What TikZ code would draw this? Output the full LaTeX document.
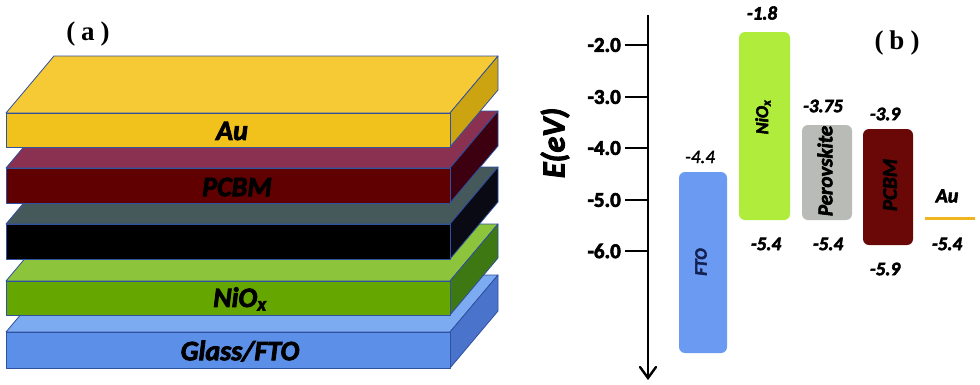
\documentclass[tikz,border=0pt]{standalone}
\usepackage{fontspec}
\setmainfont{Carlito}[BoldFeatures={FakeBold=3},BoldItalicFeatures={FakeBold=3},ItalicFeatures={FakeBold=1.5}]
\newfontfamily\serifbold{Liberation Serif}
\usetikzlibrary{arrows.meta}
\definecolor{edgeblue}{HTML}{3050A0}
\definecolor{auF}{HTML}{F2C21C}\definecolor{auT}{HTML}{F5CA34}\definecolor{auS}{HTML}{CCA412}
\definecolor{pcF}{HTML}{600000}\definecolor{pcT}{HTML}{8A3050}\definecolor{pcS}{HTML}{3C0010}
\definecolor{peF}{HTML}{000000}\definecolor{peT}{HTML}{45595A}\definecolor{peS}{HTML}{0A0A14}
\definecolor{niF}{HTML}{66A600}\definecolor{niT}{HTML}{8CC43C}\definecolor{niS}{HTML}{3E7812}
\definecolor{glF}{HTML}{5B8FE8}\definecolor{glT}{HTML}{7DABF2}\definecolor{glS}{HTML}{4A74CC}
\definecolor{ftoC}{HTML}{6A9AF2}\definecolor{nioC}{HTML}{B0EC3C}\definecolor{perC}{HTML}{B9BBB6}
\definecolor{pcbmC}{HTML}{6A0808}\definecolor{auC}{HTML}{F0B41E}\definecolor{ftoT}{HTML}{142050}
\newcommand{\mylayer}[5]{%
  \filldraw[face,fill=#4] (6,#1) -- (450,#1) -- (498,{#1-57}) -- (54,{#1-57}) -- cycle;
  \filldraw[face,fill=#5] (450,#1) -- (498,{#1-57}) -- (498,{#2-57}) -- (450,#2) -- cycle;
  \filldraw[face,fill=#3] (6,#1) rectangle (450,#2);
}
\begin{document}
\begin{tikzpicture}[x=1pt,y=-1pt,
  face/.style={draw=edgeblue,line width=0.8pt,line join=round},
  laylabel/.style={font=\fontsize{28}{30}\selectfont\bfseries\itshape,inner sep=0pt},
  panel/.style={font=\serifbold\fontsize{27}{29}\selectfont\bfseries,inner sep=0pt},
  ticklab/.style={font=\fontsize{21}{23}\selectfont\bfseries,anchor=east,inner sep=0pt},
  elab/.style={font=\fontsize{19}{21}\selectfont\bfseries\itshape,inner sep=0pt},
  bar/.style={rounded corners=6pt,inner sep=0pt},
  barlab/.style={rotate=90,font=\bfseries\itshape,inner sep=0pt},
  axisline/.style={line width=2.4pt}]
\useasboundingbox (0,0) rectangle (980,384);
% ---------- (a) layer stack ----------
\mylayer{332}{368}{glF}{glT}{glS}
\mylayer{281}{315}{niF}{niT}{niS}
\mylayer{224}{259}{peF}{peT}{peS}
\mylayer{168}{203}{pcF}{pcT}{pcS}
\mylayer{113}{147}{auF}{auT}{auS}
\node[laylabel] (labAu) at (232,131) {Au};
\node[laylabel] (labPCBM) at (237,187) {PCBM};
\node[laylabel,text=black] (labPer) at (240,242) {Perovskite};
\node[laylabel] (labNi) at (240,299) {NiO\textsubscript{x}};
\node[laylabel] (labGl) at (240,351) {Glass/FTO};
\node[panel] (pa) at (88,34) {(\hspace{6pt}a\hspace{6pt})};
% ---------- (b) energy diagram ----------
\coordinate (axTop) at (648,15);
\coordinate (axBot) at (648,378);
\draw[axisline] (axTop) -- (axBot);
\draw[line width=2.4pt,line cap=round,line join=miter] (640,367) -- (axBot) -- (656,367);
\foreach \yy/\lab in {45/-2.0,97/-3.0,148/-4.0,200/-5.0,251/-6.0}{
  \coordinate (tk\yy) at (625,\yy);
  \draw[axisline] (tk\yy) -- (648,\yy);
  \node[ticklab] (tl\yy) at (621,\yy) {\lab};
}
\node[rotate=90,font=\fontsize{32}{34}\selectfont\bfseries\itshape,inner sep=0pt] (ylab) at (555,143) {E(eV)};
% bars
\fill[bar,ftoC] (679,172) rectangle (727,353);
\node[barlab,font=\fontsize{17}{19}\selectfont\bfseries\itshape,text=ftoT] (fto) at (701,262) {FTO};
\fill[bar,nioC] (739,32) rectangle (790,220);
\node[barlab,font=\fontsize{18}{20}\selectfont\bfseries\itshape] (nio) at (763,117) {NiO\textsubscript{x}};
\fill[bar,perC] (802,125) rectangle (852,220);
\node[barlab,font=\fontsize{21}{23}\selectfont\bfseries\itshape] (per) at (825,171) {Perovskite};
\fill[bar,pcbmC] (863,129) rectangle (913,245);
\node[barlab,font=\fontsize{21}{23}\selectfont\bfseries\itshape] (pcbm) at (890,185) {PCBM};
\coordinate (auL) at (925,218);
\coordinate (auR) at (975,218);
\draw[auC,line width=3pt] (auL) -- (auR);
% energy labels
\node[elab] (e1) at (762,13) {-1.8};
\node[elab,font=\fontsize{19}{21}\selectfont\itshape] (e2) at (700,157) {-4.4};
\node[elab] (e3) at (823,106) {-3.75};
\node[elab] (e4) at (885,114) {-3.9};
\node[elab] (e5) at (766,244) {-5.4};
\node[elab] (e6) at (828,244) {-5.4};
\node[elab] (e7) at (885,269) {-5.9};
\node[elab] (e8) at (947,244) {-5.4};
\node[elab,font=\fontsize{20}{22}\selectfont\bfseries\itshape] (e9) at (947,196) {Au};
\node[panel] (pb) at (897,43) {(\hspace{6pt}b\hspace{6pt})};
\end{tikzpicture}
\end{document}
